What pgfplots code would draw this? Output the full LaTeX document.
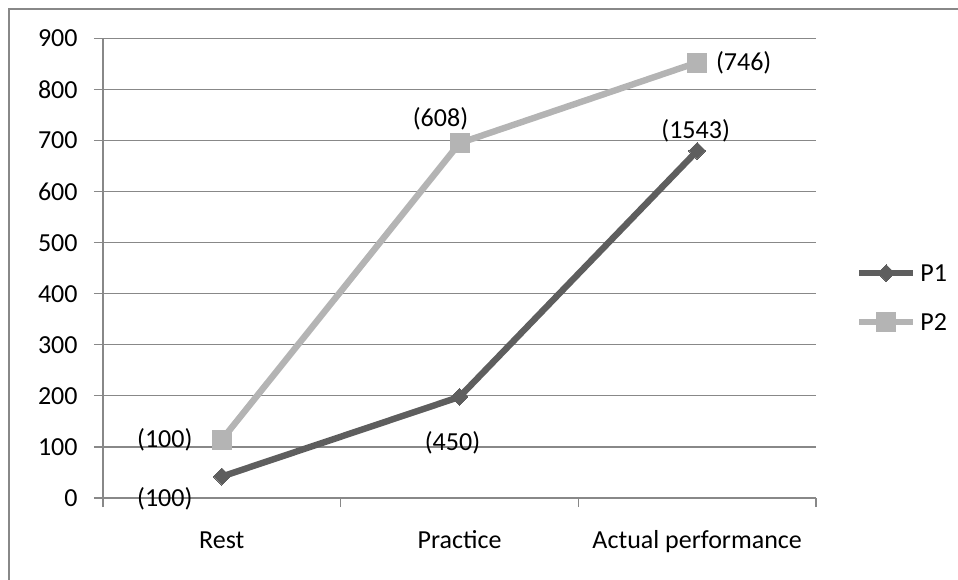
\documentclass[border=0pt]{standalone}
\usepackage{fontspec}
\setmainfont{Carlito}
\usepackage{pgfplots}
\pgfplotsset{compat=1.18}
\definecolor{pone}{HTML}{5E5E5E}
\definecolor{ptwo}{HTML}{B4B4B4}
\definecolor{gridc}{HTML}{888888}
\begin{document}
\fontsize{13pt}{15.6pt}\selectfont
\begin{tikzpicture}[font=\fontsize{13pt}{15.6pt}\selectfont]
\useasboundingbox (0,0) rectangle (479pt,289.5pt);
\draw[color=gridc, line width=1pt] (4.5pt,-2pt) -- (4.5pt,285pt) -- (481pt,285pt);
\begin{axis}[
  at={(51.5pt,40.5pt)}, anchor=south west,
  scale only axis, width=356.5pt, height=229.75pt,
  clip=false,
  xmin=-0.5, xmax=2.5, ymin=0, ymax=900,
  ytick={0,100,...,900},
  xtick={-0.5,0.5,1.5,2.5}, xticklabels={},
  extra x ticks={0,1,2},
  extra x tick labels={Rest,Practice,Actual performance},
  extra x tick style={major tick length=0pt, grid=none},
  axis x line*=bottom, axis y line*=left,
  axis line style={-, color=gridc, line width=0.6pt},
  ymajorgrids, grid style={color=gridc, line width=0.6pt},
  tick align=outside, major tick length=4.5pt,
  tick style={color=gridc, line width=0.6pt},
  /pgf/number format/assume math mode=true,
  ticklabel style={font=\fontsize{13pt}{15.6pt}\selectfont},
  yticklabel style={anchor=east, inner sep=0pt, xshift=-8pt},
  xticklabel style={anchor=base, inner sep=0pt, yshift=-25pt},
  legend style={draw=none, fill=none, inner sep=0pt, outer sep=0pt,
    at={(1.0561,0.4363)}, anchor=west, column sep=2pt, row sep=0pt,
    nodes={inner sep=0pt, anchor=west, text height=16.45pt, text depth=8.05pt},
    font=\fontsize{13pt}{15.6pt}\selectfont},
  legend cell align=left,
  legend image code/.code={\draw[mark repeat=2,mark phase=2] plot coordinates {(0pt,0pt)(13.5pt,0pt)(27pt,0pt)};},
]
\addplot[color=pone, line width=3.2pt, mark=square*, mark size=3pt,
  mark options={rotate=45, solid, line width=0pt, fill=pone}]
  coordinates {(0,42) (1,198) (2,680)};
\addlegendentry{P1}
\addplot[color=ptwo, line width=3.2pt, mark=square*, mark size=4.75pt,
  mark options={solid, line width=0pt, fill=ptwo}]
  coordinates {(0,114) (1,695) (2,853)};
\addlegendentry{P2}
\node[inner sep=0pt] at (axis cs:0,42) [xshift=-28.5pt, yshift=-11.25pt] {(100)};
\node[inner sep=0pt] at (axis cs:0,114) [xshift=-28.5pt] {(100)};
\node[inner sep=0pt] at (axis cs:1,198) [xshift=-3.5pt, yshift=-22.75pt] {(450)};
\node[inner sep=0pt] at (axis cs:1,695) [xshift=-9.5pt, yshift=12pt] {(608)};
\node[inner sep=0pt] at (axis cs:2,680) [xshift=-0.75pt, yshift=10pt] {(1543)};
\node[inner sep=0pt] at (axis cs:2,853) [xshift=23.25pt] {(746)};
\end{axis}
\end{tikzpicture}
\end{document}
